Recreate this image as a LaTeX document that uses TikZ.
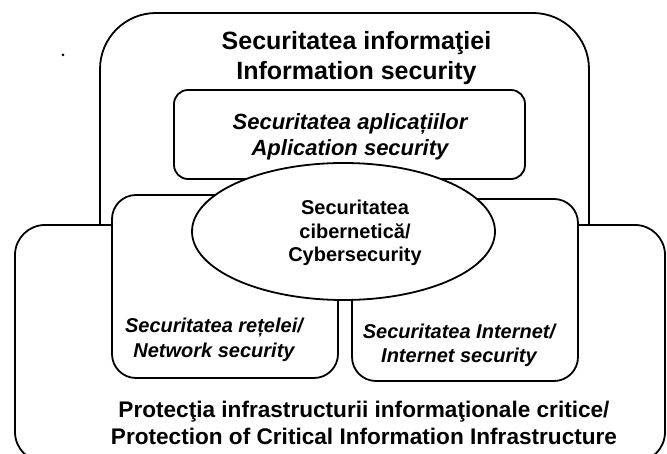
\documentclass[tikz,border=0pt]{standalone}
\usepackage{fontspec}
\setmainfont{Liberation Sans}
\usetikzlibrary{shapes.geometric}

\begin{document}
\begin{tikzpicture}[x=1pt,y=-1pt]
\tikzset{frame/.style={draw,line width=1.8pt,fill=white}}
\tikzset{box/.style={frame,rectangle,inner sep=0pt}}
\tikzset{txt/.style={align=center,inner sep=0pt}}
\newcommand{\fsz}[2]{\fontsize{#1}{#2}\selectfont\bfseries}

\useasboundingbox (0,0) rectangle (667,454);

\fill (63,55) circle (1.5pt);

\draw[frame,rounded corners=56pt] (100,225) -- (100,13) -- (589,13) -- (589,225);
\node[txt,font=\fsz{25}{30}] (info) at (356.5,58.5) {Securitatea informaţiei\\Information security};

\node[box,rounded corners=14pt,minimum width=351pt,minimum height=89pt] (app) at (349.5,134.5) {};
\node[txt,font=\fsz{22}{26}\itshape] (apptxt) at (350,137.3) {Securitatea aplicațiilor\\Aplication security};

\draw[frame,rounded corners=30pt] (15,225) rectangle (665,462);

\node[box,rounded corners=24pt,minimum width=226pt,minimum height=183pt] (net) at (225,286.5) {};
\node[box,rounded corners=24pt,minimum width=226pt,minimum height=182pt] (inet) at (465,290) {};
\node[frame,ellipse,inner sep=0pt,minimum width=303pt,minimum height=137pt] (cyber) at (343.5,231.5) {};

\node[txt,font=\fsz{20}{23.5}] (cybertxt) at (355,233.3) {Securitatea\\cibernetică/\\Cybersecurity};
\node[txt,font=\fsz{20}{24.5}\itshape] (nettxt) at (214,339.8) {Securitatea rețelei/\\Network security};
\node[txt,font=\fsz{20}{24.5}\itshape] (inettxt) at (459,345.3) {Securitatea Internet/\\Internet security};
\node[txt,font=\fsz{22.6}{27}] (ciitxt) at (364,423.3) {Protecţia infrastructurii informaţionale critice/\\Protection of Critical Information Infrastructure};
\end{tikzpicture}
\end{document}
